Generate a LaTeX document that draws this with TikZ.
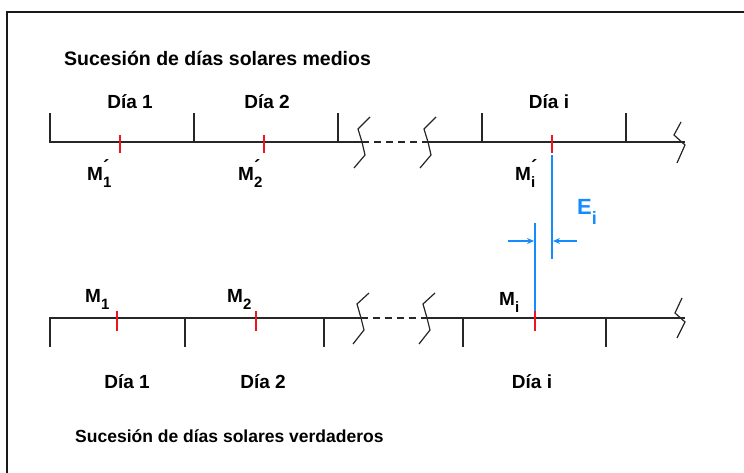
\documentclass[tikz,border=0pt]{standalone}
\usepackage{fontspec}
\setmainfont{Liberation Sans}
\usetikzlibrary{arrows.meta}
\definecolor{eblue}{RGB}{20,140,255}
\definecolor{mred}{RGB}{240,20,30}
\newcommand\subsz{\fontsize{15}{15}\selectfont}
\newcommand\Mprime[1]{M\rlap{\raisebox{0.38em}{\fontsize{19}{19}\selectfont\char"00B4}}\raisebox{-0.4em}{\subsz #1}}
\newcommand\Msub[1]{M\raisebox{-0.4em}{\subsz #1}}
\begin{document}
\begin{tikzpicture}[x=1pt,y=-1pt,
  axis/.style={line width=1.6pt,color=black!85},
  tickline/.style={line width=1.6pt,color=black!85},
  redtick/.style={line width=1.6pt,color=mred},
  brk/.style={line width=1.2pt,color=black!85,line join=miter},
  blueline/.style={line width=1.6pt,color=eblue},
  lab/.style={font=\bfseries\fontsize{19}{21}\selectfont,inner sep=0pt},
  title/.style={font=\bfseries\fontsize{19.5}{22}\selectfont,inner sep=0pt,anchor=west},
]
\useasboundingbox (0,0) rectangle (744,473);
% frame
\draw[line width=2.2pt,color=black!90] (744,12) -- (7,12) -- (7,474);

% titles
\node[title] (t1) at (64,58) {Sucesión de días solares medios};
\node[title,font=\bfseries\fontsize{17.5}{20}\selectfont] (t2) at (75,436) {Sucesión de días solares verdaderos};

% ---------- top row (y=142)
\coordinate (a0) at (50,142);
\coordinate (b1) at (362,142);
\coordinate (b2) at (428,142);
\coordinate (aend) at (685,142);
\draw[axis] (a0) -- (b1);
\draw[axis,dash pattern=on 7pt off 5pt] (b1) -- (b2);
\draw[axis] (b2) -- (aend);
\foreach \x in {50,194,338,482,626} \draw[tickline] (\x,143) -- (\x,113);
\foreach \x in {120,264,552} \draw[redtick] (\x,135) -- (\x,153);
% breaks
\foreach \c in {362,428} \draw[brk] (\c+8,117) -- (\c-4,129) -- (\c,142) -- (\c+3,155) -- (\c-8,168);
\draw[brk] (681,122) -- (674,135) -- (685,145) -- (677,163);

% labels top
\node[lab] (d1) at (130,102) {Día 1};
\node[lab] (d2) at (267,102) {Día 2};
\node[lab] (di) at (549,102) {Día i};
\node[lab,anchor=north west] (m1p) at (87,159) {\Mprime{1}};
\node[lab,anchor=north west] (m2p) at (238,159) {\Mprime{2}};
\node[lab,anchor=north west] (mip) at (515,159) {\Mprime{i}};

% ---------- bottom row (y=318)
\coordinate (c0) at (50,318);
\coordinate (e1) at (361,318);
\coordinate (e2) at (427,318);
\coordinate (cend) at (685,318);
\draw[axis] (c0) -- (e1);
\draw[axis,dash pattern=on 7pt off 5pt] (e1) -- (e2);
\draw[axis] (e2) -- (cend);
\foreach \x in {50,185,324,463,606} \draw[tickline] (\x,317) -- (\x,347);
\foreach \x in {117,256,535} \draw[redtick] (\x,311) -- (\x,331);
\foreach \c in {361,427} \draw[brk] (\c+8,293) -- (\c-4,304) -- (\c,318) -- (\c+3,330) -- (\c-8,344);
\draw[brk] (682,298) -- (675,313) -- (685,322) -- (677,338);

\node[lab,anchor=north west] (m1) at (85,289) {\Msub{1}};
\node[lab,anchor=north west] (m2) at (227,289) {\Msub{2}};
\node[lab,anchor=north west] (mi) at (499,292) {\Msub{i}};
\node[lab] (d1b) at (127,382) {Día 1};
\node[lab] (d2b) at (263,382) {Día 2};
\node[lab] (dib) at (532,382) {Día i};

% ---------- equation of time
\coordinate (ptop) at (552,155);
\coordinate (ptopend) at (552,259);
\coordinate (pbot) at (535,311);
\coordinate (pbotstart) at (535,223);
\draw[blueline] (ptop) -- (ptopend);
\draw[blueline] (pbotstart) -- (pbot);
\coordinate (al) at (508,241);
\coordinate (alt) at (534,241);
\coordinate (ar) at (577,241);
\coordinate (art) at (553,241);
\draw[blueline,line width=1.3pt,-{Stealth[length=7pt,width=6pt]}] (al) -- (alt);
\draw[blueline,line width=1.3pt,-{Stealth[length=7pt,width=6pt]}] (ar) -- (art);
\node[inner sep=0pt,anchor=north west,text=eblue,font=\bfseries\fontsize{22}{24}\selectfont] (ei) at (577,199) {E\raisebox{-0.45em}{\fontsize{18}{18}\selectfont i}};
\end{tikzpicture}
\end{document}
